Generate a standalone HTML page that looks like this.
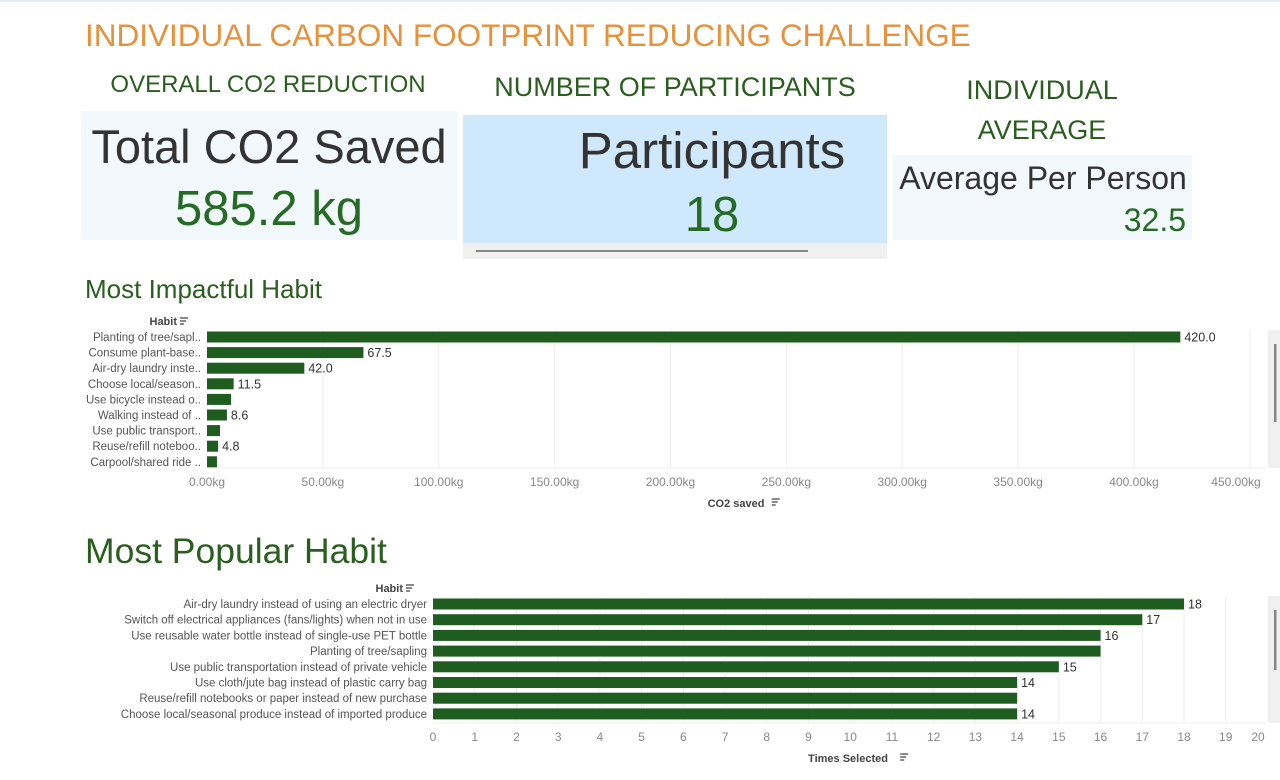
<!DOCTYPE html>
<html><head><meta charset="utf-8">
<style>
body{margin:0;width:1280px;height:780px;background:#fff;position:relative;overflow:hidden;font-family:"Liberation Sans",sans-serif}
.a{position:absolute;white-space:nowrap}
.g{color:#256b25}
.c{transform:translateX(-50%)}
</style></head><body>
<div class="a" style="left:0;top:0;width:1280px;height:2px;background:#e3ecf5"></div>
<div class="a" style="left:85px;top:17px;font-size:31.5px;color:#e8913a">INDIVIDUAL CARBON FOOTPRINT REDUCING CHALLENGE</div>

<div class="a c g" style="left:268px;top:71px;font-size:24px;color:#2a5e1e">OVERALL CO2 REDUCTION</div>
<div class="a" style="left:81px;top:111px;width:376px;height:129px;background:#f3f8fc">
 <div class="a c" style="left:188px;top:8px;font-size:47px;color:#333">Total CO2 Saved</div>
 <div class="a c g" style="left:188px;top:70px;font-size:49px">585.2 kg</div>
</div>

<div class="a c" style="left:675px;top:72px;font-size:27px;color:#2a5e1e">NUMBER OF PARTICIPANTS</div>
<div class="a" style="left:463px;top:115px;width:424px;height:128px;background:#cfe8fb">
 <div class="a c" style="left:249px;top:6px;font-size:51px;color:#333">Participants</div>
 <div class="a c g" style="left:249px;top:72px;font-size:49px">18</div>
</div>
<div class="a" style="left:463px;top:243px;width:424px;height:16px;background:#f0f0f0"><div class="a" style="left:13px;top:7px;width:332px;height:2px;background:#888"></div></div>

<div class="a c" style="left:1042px;top:70px;font-size:27px;color:#2a5e1e;text-align:center;line-height:40px">INDIVIDUAL<br>AVERAGE</div>
<div class="a" style="left:893px;top:155px;width:299px;height:85px;background:#f3f8fc">
 <div class="a c" style="left:150px;top:5px;font-size:32px;color:#333">Average Per Person</div>
 <div class="a g" style="right:6px;top:47px;font-size:32px">32.5</div>
</div>

<div class="a g" style="left:85px;top:274px;font-size:26px;color:#2a5e1e">Most Impactful Habit</div>
<div class="a g" style="left:85px;top:531px;font-size:35.5px;color:#2a5e1e">Most Popular Habit</div>

<svg class="a" style="left:0;top:0" width="1280" height="780" font-family="Liberation Sans, sans-serif">
<g id="c1"></g><g id="c2"></g>
</svg>
<script>
const habits1=["Planting of tree/sapl..","Consume plant-base..","Air-dry laundry inste..","Choose local/season..","Use bicycle instead o..","Walking instead of ..","Use public transport..","Reuse/refill noteboo..","Carpool/shared ride .."];
const co2=[420,67.5,42,11.5,10.4,8.6,5.6,4.8,4.3];
const co2Labels=["420.0","67.5","42.0","11.5","","8.6","","4.8",""];
const ticks1=[0,50,100,150,200,250,300,350,400,450];
const habits2=["Air-dry laundry instead of using an electric dryer","Switch off electrical appliances (fans/lights) when not in use","Use reusable water bottle instead of single-use PET bottle","Planting of tree/sapling","Use public transportation instead of private vehicle","Use cloth/jute bag instead of plastic carry bag","Reuse/refill notebooks or paper instead of new purchase","Choose local/seasonal produce instead of imported produce"];
const times=[18,17,16,16,15,14,14,14];
const timesLabels=["18","17","16","","15","14","","14"];
const ticks2=[0,1,2,3,4,5,6,7,8,9,10,11,12,13,14,15,16,17,18,19,20];
const NS="http://www.w3.org/2000/svg";
function mk(p,t,a){const e=document.createElementNS(NS,t);for(const k in a)e.setAttribute(k,a[k]);p.appendChild(e);return e;}
function chart(g,o){
 const x=v=>o.x0+(v-o.d0)/(o.d1-o.d0)*(o.x1-o.x0);
 const y=i=>o.y0+i*o.step;
 const bg=mk(g,'rect',{x:1268,y:o.top,width:12,height:o.bot-o.top,fill:'#f0f0f0'});
 
 
 mk(g,'rect',{x:1274,y:o.top+14,width:2.5,height:o.thumb,fill:'#888'});
 o.ticks.forEach((t,i)=>{
  const gx=x(t);
  if(t>0&&gx<1266){const l=mk(g,'line',{x1:gx,x2:gx,y1:o.top,y2:o.bot,stroke:'#eee'});
   
   }
  const last=i===o.ticks.length-1;
  const tx=mk(g,'text',{x:last?o.lastX:gx,y:o.bot+18,'text-anchor':'middle','font-size':12,fill:'#888'});
  tx.textContent=o.fmt(t);
  
  
 });
 mk(g,'line',{x1:o.x0,x2:1266,y1:o.bot,y2:o.bot,stroke:'#eee'});
 o.cats.forEach((c,i)=>{
  const cy=y(i);
  const l=mk(g,'text',{x:o.x0-6,y:cy+4,'text-anchor':'end','font-size':11.5,fill:'#555'});
  l.textContent=c;
  
  
  const b=mk(g,'rect',{x:x(o.d0),y:cy-5.5,width:x(o.vals[i])-x(o.d0),height:11,fill:'#1f5c20'});
  
  
  if(o.labels[i]){const v=mk(g,'text',{x:x(o.vals[i])+4,y:cy+4.5,'font-size':12.5,fill:'#333'});v.textContent=o.labels[i];
   
   }
 });
 const h=mk(g,'text',{x:o.x0-30,y:o.y0-12,'text-anchor':'end','font-size':11,'font-weight':'bold',fill:'#444'});h.textContent='Habit';
 
 
 mk(g,'path',{d:`M${o.x0-27} ${o.y0-19}h8M${o.x0-27} ${o.y0-16}h6M${o.x0-27} ${o.y0-13}h4`,stroke:'#444','stroke-width':1.3});
 const cx=o.tcx;
 const t=mk(g,'text',{x:cx,y:o.bot+39,'text-anchor':'middle','font-size':11,'font-weight':'bold',fill:'#444'});t.textContent=o.title;
 
 
 const tw=o.title.length*3.3+6;
 mk(g,'path',{d:`M${cx+tw} ${o.bot+31}h8M${cx+tw} ${o.bot+34}h6M${cx+tw} ${o.bot+37}h4`,stroke:'#444','stroke-width':1.3});
}
chart(document.getElementById('c1'),{cats:habits1,vals:co2,labels:co2Labels,ticks:ticks1,d0:0,d1:400,x0:207,x1:1134,y0:337,step:15.6,top:330,bot:468,thumb:78,lastX:1236,fmt:t=>t.toFixed(2)+'kg',title:'CO2 saved',tcx:736});
chart(document.getElementById('c2'),{cats:habits2,vals:times,labels:timesLabels,ticks:ticks2,d0:0,d1:18,x0:433,x1:1184,y0:604,step:15.7,top:596,bot:723,thumb:60,lastX:1258,fmt:t=>String(t),title:'Times Selected',tcx:848});
</script>
</body></html>
